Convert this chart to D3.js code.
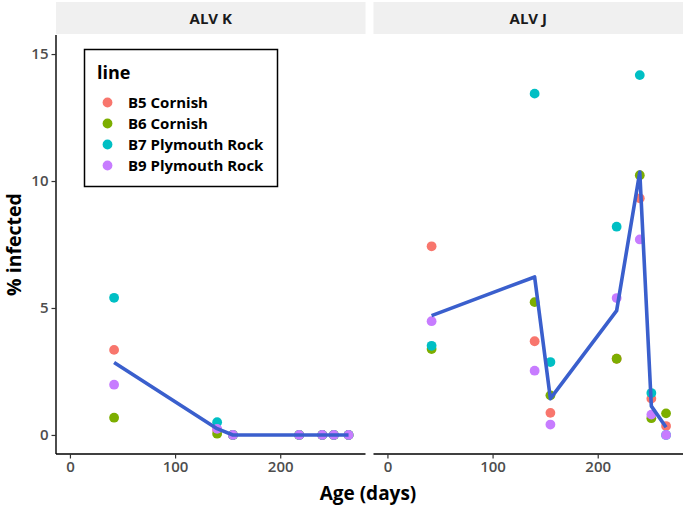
<!DOCTYPE html>
<html><head><meta charset="utf-8">
<script src="https://cdn.jsdelivr.net/npm/d3@7"></script>
<style>body{margin:0;background:#fff;} svg{display:block;font-family:"Open Sans",sans-serif;}</style>
</head><body>
<script>
const panels = ["ALV K", "ALV J"];
const days = [42, 140, 155, 218, 240, 251, 265];
const lines = ["B5 Cornish", "B6 Cornish", "B7 Plymouth Rock", "B9 Plymouth Rock"];
const colors = ["#F8766D", "#7CAE00", "#00BFC4", "#C77CFF"];
// % infected, ALV K panel, one array per line
const alvK_B5 = [3.35, 0.20, 0, 0, 0, 0, 0];
const alvK_B6 = [0.68, 0.05, 0, 0, 0, 0, 0];
const alvK_B7 = [5.40, 0.50, 0, 0, 0, 0, 0];
const alvK_B9 = [1.98, 0.24, 0, 0, 0, 0, 0];
// % infected, ALV J panel
const alvJ_B5 = [7.43, 3.69, 0.87, 3.00, 9.32, 1.43, 0.35];
const alvJ_B6 = [3.38, 5.23, 1.56, 3.00, 10.23, 0.66, 0.85];
const alvJ_B7 = [3.51, 13.44, 2.87, 8.20, 14.17, 1.65, 0];
const alvJ_B9 = [4.48, 2.53, 0.41, 5.39, 7.70, 0.80, 0];
const xTicks = [0, 100, 200];
const yTicks = [0, 5, 10, 15];

const series = {
  "ALV K": [alvK_B5, alvK_B6, alvK_B7, alvK_B9],
  "ALV J": [alvJ_B5, alvJ_B6, alvJ_B7, alvJ_B9]
};

const W = 683, H = 507;
const svg = d3.select("body").append("svg").attr("width", W).attr("height", H);

const panelTop = 35, panelBottom = 454;
const panelX = [[56, 362.5], [373.5, 680]];
const stripX = [[56, 365.5], [373.5, 683]];
const stripTop = 2;

const xDom = [0, 265], xPad = (xDom[1]-xDom[0])*0.05;
const yDom = [0, 15], yPad = (yDom[1]-yDom[0])*0.05;
const y = d3.scaleLinear().domain([yDom[0]-yPad, yDom[1]+yPad]).range([panelBottom, panelTop]);

const tickColor = "#4D4D4D";

panels.forEach((p, pi) => {
  const [x0, x1] = panelX[pi];
  const [s0, s1] = stripX[pi];
  const x = d3.scaleLinear().domain([xDom[0]-xPad, xDom[1]+xPad]).range([x0, x1]);
  // strip
  svg.append("rect").attr("x", s0).attr("y", stripTop).attr("width", s1-s0).attr("height", panelTop-stripTop-1)
    .attr("fill", "#F0F0F0");
  svg.append("text").attr("x", (s0+s1)/2).attr("y", (stripTop+panelTop)/2).attr("dy", "0.35em")
    .attr("text-anchor", "middle").attr("font-size", 15).attr("font-weight", 700).attr("fill", "#1A1A1A")
    .text(p);

  const g = svg.append("g");
  // points
  series[p].forEach((vals, si) => {
    g.selectAll(null).data(vals.map((v, i) => [days[i], v])).join("circle")
      .attr("cx", d => x(d[0])).attr("cy", d => y(d[1])).attr("r", 4.9)
      .attr("fill", colors[si]);
  });
  // mean line
  const means = days.map((d, i) => [d, d3.mean(series[p], s => s[i])]);
  g.append("path").datum(means)
    .attr("d", d3.line().x(d => x(d[0])).y(d => y(d[1])))
    .attr("fill", "none").attr("stroke", "#3A5FCD").attr("stroke-width", 3.6)
    .attr("stroke-linejoin", "round");

  // x axis
  const xa = svg.append("g").attr("transform", `translate(0,${panelBottom})`)
    .call(d3.axisBottom(x).tickValues(xTicks).tickSize(4.5).tickPadding(3));
  xa.select(".domain").attr("stroke", "#000").attr("stroke-width", 1.4).attr("d", `M${x0},0H${s1}`);
  xa.selectAll(".tick line").attr("stroke", "#333").attr("stroke-width", 1.2);
  xa.selectAll(".tick text").attr("fill", tickColor).attr("font-size", 15).attr("font-weight", 600)
    .attr("font-family", "Open Sans");

  if (pi === 0) {
    const ya = svg.append("g").attr("transform", `translate(${x0},0)`)
      .call(d3.axisLeft(y).tickValues(yTicks).tickSize(4.5).tickPadding(3));
    ya.select(".domain").attr("stroke", "#000").attr("stroke-width", 1.4).attr("d", `M0,${panelTop}V${panelBottom}`);
    ya.selectAll(".tick line").attr("stroke", "#333").attr("stroke-width", 1.2);
    ya.selectAll(".tick text").attr("fill", tickColor).attr("font-size", 15).attr("font-weight", 600)
      .attr("font-family", "Open Sans");
  }
});

// axis titles
svg.append("text").attr("x", 368).attr("y", 500).attr("text-anchor", "middle")
  .attr("font-size", 19).attr("font-weight", 700).attr("fill", "#000").text("Age (days)");
svg.append("text").attr("transform", `translate(21,${(panelTop+panelBottom)/2}) rotate(-90)`)
  .attr("text-anchor", "middle").attr("font-size", 19.5).attr("font-weight", 700).attr("fill", "#000")
  .text("% infected");

// legend
const lg = svg.append("g");
lg.append("rect").attr("x", 84.5).attr("y", 49.5).attr("width", 193).attr("height", 137)
  .attr("fill", "#fff").attr("stroke", "#000").attr("stroke-width", 1.5);
lg.append("text").attr("x", 97).attr("y", 79).attr("font-size", 18).attr("font-weight", 700).attr("fill", "#000").text("line");
lines.forEach((l, i) => {
  const cy = 102.5 + i*21;
  lg.append("circle").attr("cx", 107.5).attr("cy", cy).attr("r", 4.9).attr("fill", colors[i]);
  lg.append("text").attr("x", 128).attr("y", cy).attr("dy", "0.35em").attr("font-size", 15)
    .attr("font-weight", 700).attr("fill", "#000").text(l);
});
</script>
</body></html>
